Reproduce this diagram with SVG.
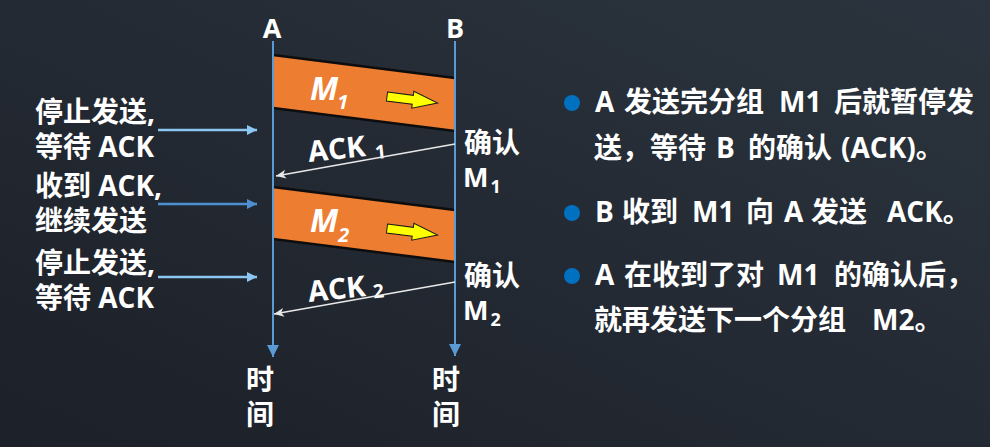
<svg xmlns="http://www.w3.org/2000/svg" width="990" height="447" viewBox="0 0 990 447">
  <defs>
    <linearGradient id="bg" x1="0" y1="1" x2="1" y2="0">
      <stop offset="0" stop-color="#1c2028"/>
      <stop offset="1" stop-color="#2b343e"/>
    </linearGradient>
    <marker id="axisHead" markerUnits="userSpaceOnUse" markerWidth="12" markerHeight="12" refX="10" refY="5" orient="auto" viewBox="0 0 10 10">
      <path d="M0,0 L10,5 L0,10 Z" fill="#5b9bd5"/>
    </marker>
    <marker id="lightHead" markerUnits="userSpaceOnUse" markerWidth="10" markerHeight="10" refX="9" refY="4.5" orient="auto" viewBox="0 0 9 9">
      <path d="M0,0 L9,4.5 L0,9 Z" fill="#8cc6f2"/>
    </marker>
    <marker id="midHead" markerUnits="userSpaceOnUse" markerWidth="10" markerHeight="10" refX="9" refY="4.5" orient="auto" viewBox="0 0 9 9">
      <path d="M0,0 L9,4.5 L0,9 Z" fill="#4e8fd2"/>
    </marker>
    <marker id="ackHead" markerUnits="userSpaceOnUse" markerWidth="10" markerHeight="10" refX="9" refY="4" orient="auto" viewBox="0 0 9 8">
      <path d="M0,0 L9,4 L0,8 L2.5,4 Z" fill="#e8e8e8"/>
    </marker>
  </defs>
  <style>
    text { font-family: "Open Sans", "Noto Sans CJK SC", sans-serif; font-weight: bold; fill: #ffffff; }
    .lbl { font-size: 28px; }
    .side { font-size: 28px; }
    .bul { font-size: 28px; }
    .msg { font-size: 32px; font-style: italic; }
    .msgsub { font-size: 20px; }
    .ack { font-size: 29px; }
    .acksub { font-size: 19px; }
    .band { fill: #ed7d31; }
    .edge { stroke: #0d0d0d; stroke-width: 2.5; fill: none; }
    .yarrow { fill: #ffff00; stroke: #1a1a1a; stroke-width: 1; }
    .axis { stroke: #5b9bd5; stroke-width: 2; fill: none; }
    .ptr-light { stroke: #8cc6f2; stroke-width: 2.5; fill: none; }
    .ptr-mid { stroke: #4e8fd2; stroke-width: 2.5; fill: none; }
    .ackline { stroke: #e8e8e8; stroke-width: 1.6; fill: none; }
    .dot { fill: #0070c0; }
  </style>

  <rect x="0" y="0" width="990" height="447" fill="url(#bg)"/>

  <g id="nodeA">
    <text x="272" y="38" font-size="27" text-anchor="middle">A</text>
    <text class="side"><tspan x="246" y="390">时</tspan><tspan x="246" y="425">间</tspan></text>
  </g>
  <g id="nodeB">
    <text x="455" y="38" font-size="27" text-anchor="middle">B</text>
    <text class="side"><tspan x="432" y="390">时</tspan><tspan x="432" y="425">间</tspan></text>
  </g>

  <g id="bandM1">
    <polygon class="band" points="274,55 455,78 455,131 274,108"/>
    <line class="edge" x1="273" y1="55" x2="455" y2="78"/>
    <line class="edge" x1="273" y1="108" x2="455" y2="131"/>
    <text class="msg" x="310" y="100">M<tspan class="msgsub" dx="-1" dy="9">1</tspan></text>
    <polygon class="yarrow" transform="translate(387,96.5) rotate(7.3)" points="0,-4.5 26,-4.5 26,-8.5 51,0 26,8.5 26,4.5 0,4.5"/>
  </g>

  <g id="bandM2">
    <polygon class="band" points="274,187 455,210 455,262 274,239"/>
    <line class="edge" x1="273" y1="187" x2="455" y2="210"/>
    <line class="edge" x1="273" y1="239" x2="455" y2="262"/>
    <text class="msg" x="310" y="232">M<tspan class="msgsub" dx="0" dy="10">2</tspan></text>
    <polygon class="yarrow" transform="translate(387,228.5) rotate(7.3)" points="0,-4.5 26,-4.5 26,-8.5 51,0 26,8.5 26,4.5 0,4.5"/>
  </g>

  <g id="labelStop1">
    <text class="lbl"><tspan x="35" y="122">停止发送,</tspan><tspan x="35" y="157">等待 ACK</tspan></text>
  </g>
  <g id="labelRecv">
    <text class="lbl"><tspan x="35" y="196">收到 ACK,</tspan><tspan x="35" y="231">继续发送</tspan></text>
  </g>
  <g id="labelStop2">
    <text class="lbl"><tspan x="35" y="273">停止发送,</tspan><tspan x="35" y="308">等待 ACK</tspan></text>
  </g>

  <g id="ack1Label">
    <text class="ack" transform="translate(309,162) rotate(-6)" x="0" y="0">ACK<tspan class="acksub" dx="9" dy="4">1</tspan></text>
  </g>
  <g id="ack2Label">
    <text class="ack" transform="translate(309,302) rotate(-6)" x="0" y="0">ACK<tspan class="acksub" dx="7" dy="3">2</tspan></text>
  </g>

  <g id="confirmM1">
    <text class="side"><tspan x="464" y="153">确认</tspan><tspan x="463" y="187" font-size="27">M</tspan><tspan dx="2" y="193" font-size="18">1</tspan></text>
  </g>
  <g id="confirmM2">
    <text class="side"><tspan x="464" y="286">确认</tspan><tspan x="463" y="320" font-size="27">M</tspan><tspan dx="2" y="326" font-size="18">2</tspan></text>
  </g>

  <g id="bullet1">
    <circle class="dot" cx="572" cy="103" r="8"/>
    <text class="bul"><tspan x="595" y="112">A</tspan><tspan x="624">发送完分组</tspan><tspan x="779">M1</tspan><tspan x="834">后就暂停发</tspan><tspan x="594" y="158">送，等待</tspan><tspan x="716">B</tspan><tspan x="748">的确认</tspan><tspan x="841">(ACK)。</tspan></text>
  </g>
  <g id="bullet2">
    <circle class="dot" cx="572" cy="213" r="8"/>
    <text class="bul" y="222"><tspan x="595">B</tspan><tspan x="622">收到</tspan><tspan x="692">M1</tspan><tspan x="746">向</tspan><tspan x="784">A</tspan><tspan x="811">发送</tspan><tspan x="887">ACK。</tspan></text>
  </g>
  <g id="bullet3">
    <circle class="dot" cx="572" cy="276" r="8"/>
    <text class="bul"><tspan x="595" y="285">A</tspan><tspan x="624">在收到了对</tspan><tspan x="777">M1</tspan><tspan x="834">的确认后，</tspan><tspan x="594" y="330">就再发送下一个分组</tspan><tspan x="872">M2。</tspan></text>
  </g>

  <g id="connectors">
    <line class="axis" x1="273" y1="41" x2="273" y2="357" marker-end="url(#axisHead)"/>
    <line class="axis" x1="455" y1="41" x2="455" y2="356" marker-end="url(#axisHead)"/>
    <line class="ptr-light" x1="158" y1="130" x2="257" y2="130" marker-end="url(#lightHead)"/>
    <line class="ptr-mid" x1="158" y1="204" x2="257" y2="204" marker-end="url(#midHead)"/>
    <line class="ptr-light" x1="158" y1="277" x2="257" y2="277" marker-end="url(#lightHead)"/>
    <line class="ackline" x1="455" y1="144" x2="276" y2="176" marker-end="url(#ackHead)"/>
    <line class="ackline" x1="455" y1="282" x2="274" y2="314" marker-end="url(#ackHead)"/>
  </g>
</svg>
